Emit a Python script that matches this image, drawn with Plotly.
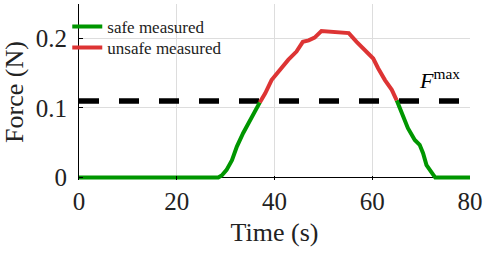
import plotly.graph_objects as go

# ---- data ----
safe_rise_t = [0, 28.5, 29.2, 30.2, 31.3, 32.3, 33.6, 35.0, 36.0, 37.0]
safe_rise_f = [0, 0, 0.003, 0.011, 0.025, 0.0445, 0.064, 0.083, 0.095, 0.108]

unsafe_t = [37.0, 38.1, 39.4, 41.1, 42.8, 44.5, 45.8, 47.0, 48.2, 49.6, 52.0, 55.2,
            56.8, 58.5, 60.2, 61.2, 62.6, 64.0, 65.0]
unsafe_f = [0.108, 0.121, 0.140, 0.1545, 0.169, 0.181, 0.195, 0.197, 0.201, 0.2105, 0.2095, 0.2075,
            0.195, 0.183, 0.171, 0.157, 0.140, 0.126, 0.111]

safe_fall_t = [65.0, 66.0, 67.3, 68.7, 69.7, 70.4, 71.1, 72.5, 72.9, 80]
safe_fall_f = [0.111, 0.092, 0.071, 0.054, 0.047, 0.035, 0.018, 0.004, 0, 0]

f_max = 0.11
f_max_t = [0, 80]

x_ticks = [0, 20, 40, 60, 80]
y_ticks = [0, 0.1, 0.2]
y_tick_labels = ["0", "0.1", "0.2"]

GREEN = "rgb(0,150,0)"
RED = "rgb(221,52,52)"
FONT = "Liberation Serif, Times New Roman, serif"

fig = go.Figure()

fig.add_trace(go.Scatter(
    x=f_max_t, y=[f_max, f_max], mode="lines",
    line=dict(color="black", width=5.5, dash="20px,20px"),
    showlegend=False, hoverinfo="skip"))

fig.add_trace(go.Scatter(
    x=safe_rise_t + [None] + safe_fall_t,
    y=safe_rise_f + [None] + safe_fall_f,
    mode="lines", name="safe measured", legend="legend",
    line=dict(color=GREEN, width=4), connectgaps=False))

fig.add_trace(go.Scatter(
    x=unsafe_t, y=unsafe_f, mode="lines", name="unsafe measured", legend="legend2",
    line=dict(color=RED, width=4)))

fig.add_annotation(
    x=69.2, y=0.118, xref="x", yref="y", xanchor="left", yanchor="bottom",
    text="<i>F</i><sup>max</sup>", showarrow=False,
    font=dict(family=FONT, size=22, color="black"))

legend_style = dict(xanchor="left", yanchor="middle", bgcolor="rgba(0,0,0,0)",
                    font=dict(family=FONT, size=17, color="#222"), itemwidth=30)

fig.update_layout(
    width=486, height=253,
    margin=dict(l=79, r=16, t=4, b=73, autoexpand=False),
    paper_bgcolor="white", plot_bgcolor="white",
    font=dict(family=FONT, color="black"),
    legend=dict(x=-0.03, y=0.869, **legend_style),
    legend2=dict(x=-0.03, y=0.750, **legend_style),
    xaxis=dict(range=[0, 80], tickvals=x_ticks, showgrid=True, gridcolor="#dddddd",
               gridwidth=1, showline=False, zeroline=False, automargin=False,
               ticks="inside", ticklen=4, tickcolor="black",
               tickfont=dict(family=FONT, size=25, color="#222"),
               ticklabelstandoff=4,
               title=dict(text="Time (s)", font=dict(family=FONT, size=26, color="#222"), standoff=8)),
    yaxis=dict(range=[-0.0035, 0.2493], tickvals=y_ticks, ticktext=y_tick_labels,
               showgrid=True, gridcolor="#dddddd", gridwidth=1, automargin=False,
               showline=True, linecolor="black", linewidth=1,
               zeroline=True, zerolinecolor="black", zerolinewidth=1,
               ticks="inside", ticklen=4, tickcolor="black",
               tickfont=dict(family=FONT, size=25, color="#222"),
               ticklabelstandoff=6,
               title=dict(text="Force (N)", font=dict(family=FONT, size=26, color="#222"), standoff=8)),
)

fig.write_html("out.html", config={"displayModeBar": False},
               post_script="document.body.style.margin='0';")
